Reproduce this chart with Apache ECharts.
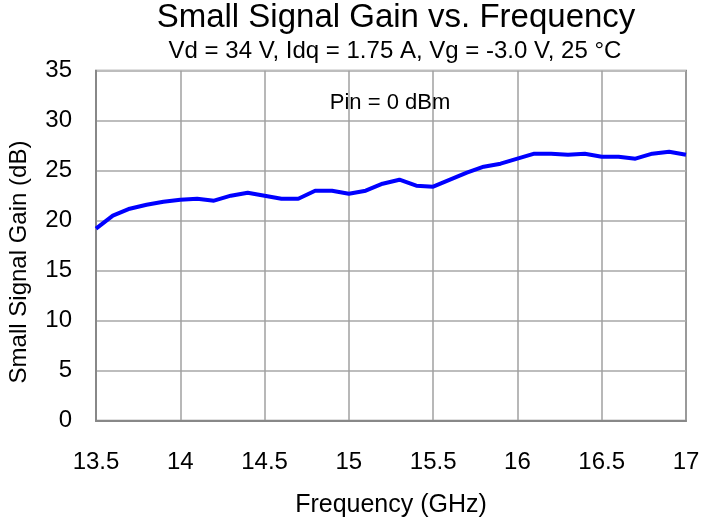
<!DOCTYPE html>
<html><head><meta charset="utf-8">
<script src="https://cdn.jsdelivr.net/npm/echarts@6/dist/echarts.min.js"></script>
<style>html,body{margin:0;padding:0;background:#fff}#c{width:703px;height:519px}</style>
</head><body><div id="c"></div>
<script>
const frequency = [13.5,13.6,13.7,13.8,13.9,14.0,14.1,14.2,14.3,14.4,14.5,14.6,14.7,14.8,14.9,15.0,15.1,15.2,15.3,15.4,15.5,15.6,15.7,15.8,15.9,16.0,16.1,16.2,16.3,16.4,16.5,16.6,16.7,16.8,16.9,17.0];
const gain = [19.2,20.5,21.2,21.6,21.9,22.1,22.2,22.0,22.5,22.8,22.5,22.2,22.2,23.0,23.0,22.7,23.0,23.7,24.1,23.5,23.4,24.1,24.8,25.4,25.7,26.2,26.7,26.7,26.6,26.7,26.4,26.4,26.2,26.7,26.9,26.6];
const xTicks = [13.5,14,14.5,15,15.5,16,16.5,17];
const yTicks = [0,5,10,15,20,25,30,35];
const titleText = 'Small Signal Gain vs. Frequency';
const subtitleText = 'Vd = 34 V, Idq = 1.75 A, Vg = -3.0 V, 25 °C';
const noteText = 'Pin = 0 dBm';
const xName = 'Frequency (GHz)';
const yName = 'Small Signal Gain (dB)';

const chart = echarts.init(document.getElementById('c'));
const ff = 'Liberation Sans, Arial, sans-serif';
chart.setOption({
  animation:false,
  title:[{text:titleText,left:396,top:1,padding:0,textAlign:'center',textStyle:{fontFamily:ff,fontSize:33,fontWeight:'normal',color:'#000'}},
         {text:subtitleText,left:395,top:39,padding:0,textAlign:'center',textStyle:{fontFamily:ff,fontSize:24,fontWeight:'normal',color:'#000'}},
         {text:noteText,left:390,top:92,padding:0,textAlign:'center',textStyle:{fontFamily:ff,fontSize:22,fontWeight:'normal',color:'#000'}}],
  graphic:[{type:'text',x:19,y:262,rotation:Math.PI/2,
    style:{text:yName,font:'24px '+ff,fill:'#000',align:'center',verticalAlign:'middle'}}],
  grid:{left:96,right:17,top:70.7,bottom:98.3,outerBoundsMode:'none',containLabel:false,show:true,borderColor:'#888',borderWidth:2,backgroundColor:'transparent'},
  xAxis:{type:'value',min:13.5,max:17,interval:0.5,
    name:xName,nameLocation:'middle',nameGap:72,
    nameTextStyle:{fontFamily:ff,fontSize:25,color:'#000'},
    axisLine:{show:true,lineStyle:{color:'#888',width:2}},axisTick:{show:false},
    axisLabel:{fontFamily:ff,fontSize:24,color:'#000',margin:30,formatter:v=>String(+v.toFixed(1))},
    splitLine:{show:true,lineStyle:{color:'#a0a0a0',width:1.5}}},
  yAxis:{type:'value',min:0,max:35,interval:5,
    axisLine:{show:true,lineStyle:{color:'#888',width:2}},axisTick:{show:false},
    axisLabel:{fontFamily:ff,fontSize:24,color:'#000',margin:24},
    splitLine:{show:true,lineStyle:{color:'#bdbdbd',width:2}}},
  series:[{type:'line',data:frequency.map((f,i)=>[f,gain[i]]),showSymbol:false,
    lineStyle:{color:'#0000ff',width:4},itemStyle:{color:'#0000ff'}}]
});
</script></body></html>
